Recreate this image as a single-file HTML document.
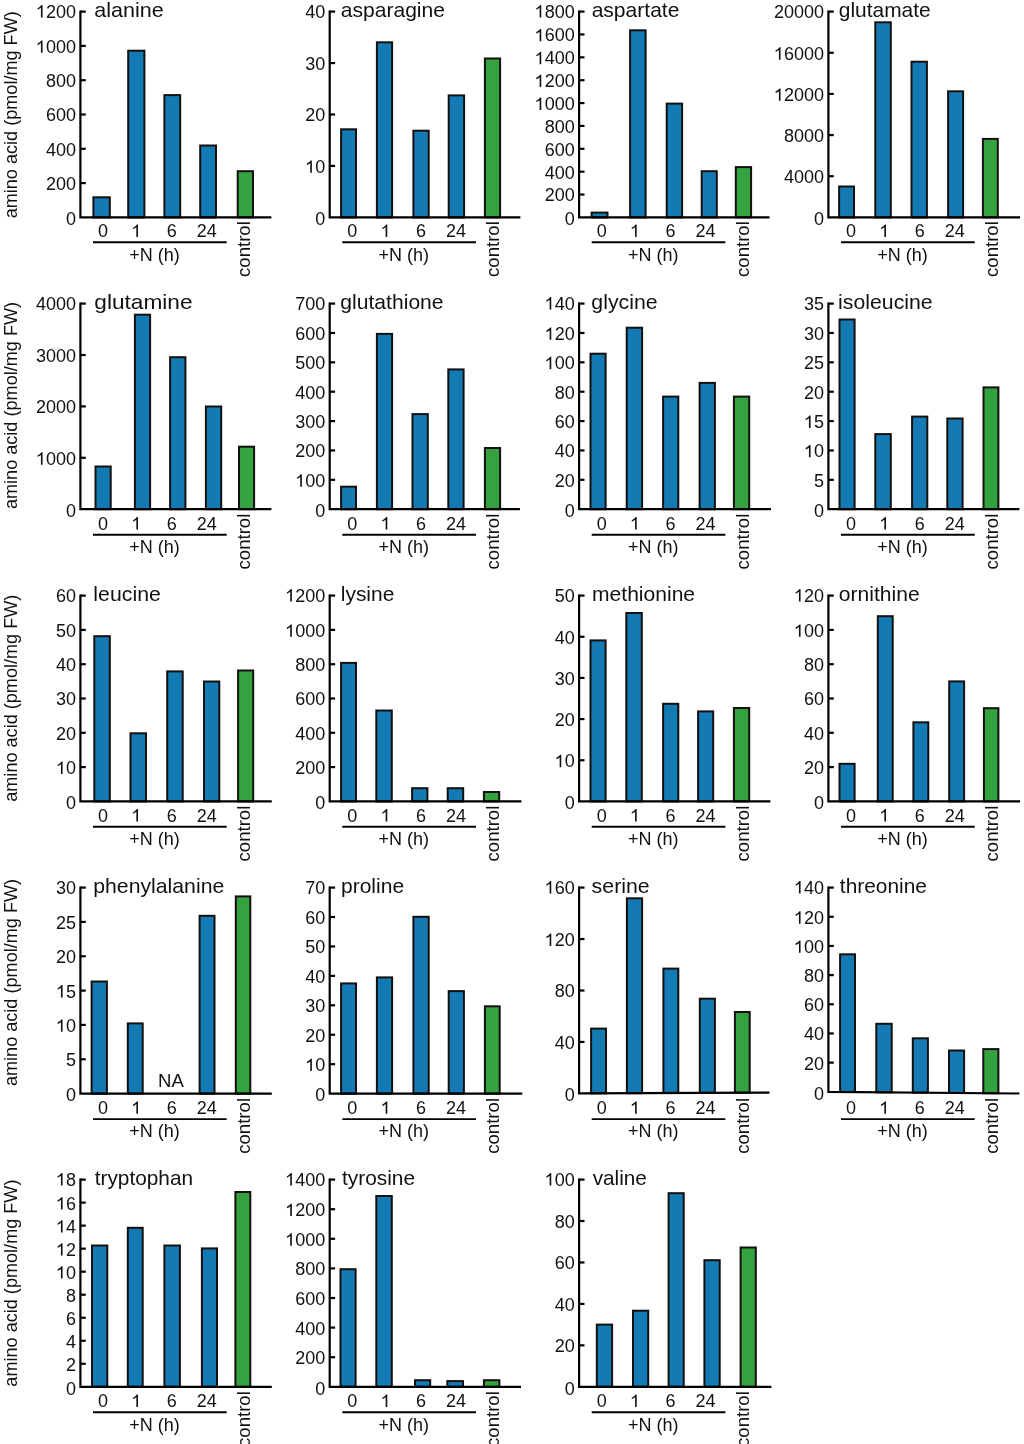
<!DOCTYPE html>
<html><head><meta charset="utf-8"><title>amino acids</title>
<style>
html,body{margin:0;padding:0;background:#fff;}
body{width:1024px;height:1444px;overflow:hidden;}
svg{display:block;will-change:transform;}
.g1{fill:#111;}
.t{font-family:"Liberation Sans",sans-serif;font-size:18px;fill:#111;}
.ti{font-family:"Liberation Sans",sans-serif;font-size:21px;fill:#111;}
</style></head><body>
<svg width="1024" height="1444" viewBox="0 0 1024 1444">
<rect width="1024" height="1444" fill="#fff"/>
<g><rect x="93.4" y="197.3" width="16.4" height="20.1" fill="#137ab4" stroke="#141010" stroke-width="2"/><rect x="128.2" y="50.7" width="16.2" height="166.7" fill="#137ab4" stroke="#141010" stroke-width="2"/><rect x="164.4" y="95.1" width="15.8" height="122.3" fill="#137ab4" stroke="#141010" stroke-width="2"/><rect x="200.2" y="145.5" width="15.8" height="71.9" fill="#137ab4" stroke="#141010" stroke-width="2"/><rect x="237.7" y="171.2" width="15.3" height="46.2" fill="#34a33f" stroke="#141010" stroke-width="2"/><path d="M80.4 10.5V217.4L271.4 217.4" fill="none" stroke="#000" stroke-width="2.2"/><text x="65.99" y="225.1" class="t">0</text><path d="M80.4 183.1H85.8" stroke="#000" stroke-width="2.2"/><text x="45.97" y="190" class="t">200</text><path d="M80.4 148.8H85.8" stroke="#000" stroke-width="2.2"/><text x="45.97" y="155.7" class="t">400</text><path d="M80.4 114.5H85.8" stroke="#000" stroke-width="2.2"/><text x="45.97" y="121.4" class="t">600</text><path d="M80.4 80.2H85.8" stroke="#000" stroke-width="2.2"/><text x="45.97" y="87.1" class="t">800</text><path d="M80.4 45.9H85.8" stroke="#000" stroke-width="2.2"/><text x="35.96" y="52.8" class="t"> 000</text><path d="M750 0H565V1102Q495 1043 385 983Q275 924 188 894V1061Q338 1129 452 1226Q565 1323 625 1409H750Z" transform="matrix(0.008789 0 0 -0.008789 35.96 52.8)" class="g1"/><path d="M80.4 11.6H85.8" stroke="#000" stroke-width="2.2"/><text x="35.96" y="17.5" class="t"> 200</text><path d="M750 0H565V1102Q495 1043 385 983Q275 924 188 894V1061Q338 1129 452 1226Q565 1323 625 1409H750Z" transform="matrix(0.008789 0 0 -0.008789 35.96 17.5)" class="g1"/><text x="94.24" y="16.5" class="ti" textLength="69.58" lengthAdjust="spacingAndGlyphs">alanine</text><text x="97.99" y="237" class="t">0</text><text x="131.39" y="237" class="t"> </text><path d="M750 0H565V1102Q495 1043 385 983Q275 924 188 894V1061Q338 1129 452 1226Q565 1323 625 1409H750Z" transform="matrix(0.008789 0 0 -0.008789 131.39 237)" class="g1"/><text x="166.79" y="237" class="t">6</text><text x="196.79" y="237" class="t">24</text><path d="M93 242.3H226.7" stroke="#000" stroke-width="1.9"/><text x="154.5" y="260.6" class="t" text-anchor="middle">+N (h)</text><text class="t" style="font-size:18.6px" transform="translate(249.8 277) rotate(-90)">control</text><text class="t" style="font-size:18.1px" text-anchor="middle" transform="translate(16.6 114.8) rotate(-90)">amino acid (pmol/mg FW)</text></g>
<g><rect x="341.1" y="129.3" width="14.9" height="88.1" fill="#137ab4" stroke="#141010" stroke-width="2"/><rect x="376.9" y="42.3" width="15.2" height="175.1" fill="#137ab4" stroke="#141010" stroke-width="2"/><rect x="413.4" y="130.7" width="15.3" height="86.7" fill="#137ab4" stroke="#141010" stroke-width="2"/><rect x="448.7" y="95.4" width="15.4" height="122" fill="#137ab4" stroke="#141010" stroke-width="2"/><rect x="484.9" y="58.5" width="15.2" height="158.9" fill="#34a33f" stroke="#141010" stroke-width="2"/><path d="M329.7 10.5V217.4L520.4 217.4" fill="none" stroke="#000" stroke-width="2.2"/><text x="315.29" y="225.1" class="t">0</text><path d="M329.7 165.95H335.1" stroke="#000" stroke-width="2.2"/><text x="305.28" y="172.85" class="t"> 0</text><path d="M750 0H565V1102Q495 1043 385 983Q275 924 188 894V1061Q338 1129 452 1226Q565 1323 625 1409H750Z" transform="matrix(0.008789 0 0 -0.008789 305.28 172.85)" class="g1"/><path d="M329.7 114.5H335.1" stroke="#000" stroke-width="2.2"/><text x="305.28" y="121.4" class="t">20</text><path d="M329.7 63.05H335.1" stroke="#000" stroke-width="2.2"/><text x="305.28" y="69.95" class="t">30</text><path d="M329.7 11.6H335.1" stroke="#000" stroke-width="2.2"/><text x="305.28" y="17.5" class="t">40</text><text x="340.75" y="16.5" class="ti" textLength="104.23" lengthAdjust="spacingAndGlyphs">asparagine</text><text x="347.29" y="237" class="t">0</text><text x="380.69" y="237" class="t"> </text><path d="M750 0H565V1102Q495 1043 385 983Q275 924 188 894V1061Q338 1129 452 1226Q565 1323 625 1409H750Z" transform="matrix(0.008789 0 0 -0.008789 380.69 237)" class="g1"/><text x="416.09" y="237" class="t">6</text><text x="446.09" y="237" class="t">24</text><path d="M342.3 242.3H476" stroke="#000" stroke-width="1.9"/><text x="403.8" y="260.6" class="t" text-anchor="middle">+N (h)</text><text class="t" style="font-size:18.6px" transform="translate(499.1 277) rotate(-90)">control</text></g>
<g><rect x="591.6" y="212.6" width="15.9" height="4.8" fill="#137ab4" stroke="#141010" stroke-width="2"/><rect x="630.1" y="30.3" width="15.5" height="187.1" fill="#137ab4" stroke="#141010" stroke-width="2"/><rect x="666.7" y="103.6" width="15.4" height="113.8" fill="#137ab4" stroke="#141010" stroke-width="2"/><rect x="701.7" y="171.2" width="15.1" height="46.2" fill="#137ab4" stroke="#141010" stroke-width="2"/><rect x="735.8" y="167.1" width="15.3" height="50.3" fill="#34a33f" stroke="#141010" stroke-width="2"/><path d="M579.1 10.5V217.4L769.5 217.4" fill="none" stroke="#000" stroke-width="2.2"/><text x="564.69" y="225.1" class="t">0</text><path d="M579.1 194.53H584.5" stroke="#000" stroke-width="2.2"/><text x="544.67" y="201.43" class="t">200</text><path d="M579.1 171.67H584.5" stroke="#000" stroke-width="2.2"/><text x="544.67" y="178.57" class="t">400</text><path d="M579.1 148.8H584.5" stroke="#000" stroke-width="2.2"/><text x="544.67" y="155.7" class="t">600</text><path d="M579.1 125.93H584.5" stroke="#000" stroke-width="2.2"/><text x="544.67" y="132.83" class="t">800</text><path d="M579.1 103.07H584.5" stroke="#000" stroke-width="2.2"/><text x="534.66" y="109.97" class="t"> 000</text><path d="M750 0H565V1102Q495 1043 385 983Q275 924 188 894V1061Q338 1129 452 1226Q565 1323 625 1409H750Z" transform="matrix(0.008789 0 0 -0.008789 534.66 109.97)" class="g1"/><path d="M579.1 80.2H584.5" stroke="#000" stroke-width="2.2"/><text x="534.66" y="87.1" class="t"> 200</text><path d="M750 0H565V1102Q495 1043 385 983Q275 924 188 894V1061Q338 1129 452 1226Q565 1323 625 1409H750Z" transform="matrix(0.008789 0 0 -0.008789 534.66 87.1)" class="g1"/><path d="M579.1 57.33H584.5" stroke="#000" stroke-width="2.2"/><text x="534.66" y="64.23" class="t"> 400</text><path d="M750 0H565V1102Q495 1043 385 983Q275 924 188 894V1061Q338 1129 452 1226Q565 1323 625 1409H750Z" transform="matrix(0.008789 0 0 -0.008789 534.66 64.23)" class="g1"/><path d="M579.1 34.47H584.5" stroke="#000" stroke-width="2.2"/><text x="534.66" y="41.37" class="t"> 600</text><path d="M750 0H565V1102Q495 1043 385 983Q275 924 188 894V1061Q338 1129 452 1226Q565 1323 625 1409H750Z" transform="matrix(0.008789 0 0 -0.008789 534.66 41.37)" class="g1"/><path d="M579.1 11.6H584.5" stroke="#000" stroke-width="2.2"/><text x="534.66" y="17.5" class="t"> 800</text><path d="M750 0H565V1102Q495 1043 385 983Q275 924 188 894V1061Q338 1129 452 1226Q565 1323 625 1409H750Z" transform="matrix(0.008789 0 0 -0.008789 534.66 17.5)" class="g1"/><text x="591.65" y="16.5" class="ti" textLength="87.77" lengthAdjust="spacingAndGlyphs">aspartate</text><text x="596.69" y="237" class="t">0</text><text x="630.09" y="237" class="t"> </text><path d="M750 0H565V1102Q495 1043 385 983Q275 924 188 894V1061Q338 1129 452 1226Q565 1323 625 1409H750Z" transform="matrix(0.008789 0 0 -0.008789 630.09 237)" class="g1"/><text x="665.49" y="237" class="t">6</text><text x="695.49" y="237" class="t">24</text><path d="M591.7 242.3H725.4" stroke="#000" stroke-width="1.9"/><text x="653.2" y="260.6" class="t" text-anchor="middle">+N (h)</text><text class="t" style="font-size:18.6px" transform="translate(748.5 277) rotate(-90)">control</text></g>
<g><rect x="839.1" y="186.5" width="14.9" height="30.9" fill="#137ab4" stroke="#141010" stroke-width="2"/><rect x="875.3" y="22.3" width="15.5" height="195.1" fill="#137ab4" stroke="#141010" stroke-width="2"/><rect x="911.5" y="61.7" width="15.4" height="155.7" fill="#137ab4" stroke="#141010" stroke-width="2"/><rect x="948.1" y="91.3" width="15" height="126.1" fill="#137ab4" stroke="#141010" stroke-width="2"/><rect x="982.9" y="138.9" width="14.9" height="78.5" fill="#34a33f" stroke="#141010" stroke-width="2"/><path d="M828.4 10.5V217.4L1020 217.4" fill="none" stroke="#000" stroke-width="2.2"/><text x="813.99" y="225.1" class="t">0</text><path d="M828.4 176.24H833.8" stroke="#000" stroke-width="2.2"/><text x="783.96" y="183.14" class="t">4000</text><path d="M828.4 135.08H833.8" stroke="#000" stroke-width="2.2"/><text x="783.96" y="141.98" class="t">8000</text><path d="M828.4 93.92H833.8" stroke="#000" stroke-width="2.2"/><text x="773.95" y="100.82" class="t"> 2000</text><path d="M750 0H565V1102Q495 1043 385 983Q275 924 188 894V1061Q338 1129 452 1226Q565 1323 625 1409H750Z" transform="matrix(0.008789 0 0 -0.008789 773.95 100.82)" class="g1"/><path d="M828.4 52.76H833.8" stroke="#000" stroke-width="2.2"/><text x="773.95" y="59.66" class="t"> 6000</text><path d="M750 0H565V1102Q495 1043 385 983Q275 924 188 894V1061Q338 1129 452 1226Q565 1323 625 1409H750Z" transform="matrix(0.008789 0 0 -0.008789 773.95 59.66)" class="g1"/><path d="M828.4 11.6H833.8" stroke="#000" stroke-width="2.2"/><text x="773.95" y="17.5" class="t">20000</text><text x="838.85" y="16.5" class="ti" textLength="91.83" lengthAdjust="spacingAndGlyphs">glutamate</text><text x="845.99" y="237" class="t">0</text><text x="879.39" y="237" class="t"> </text><path d="M750 0H565V1102Q495 1043 385 983Q275 924 188 894V1061Q338 1129 452 1226Q565 1323 625 1409H750Z" transform="matrix(0.008789 0 0 -0.008789 879.39 237)" class="g1"/><text x="914.79" y="237" class="t">6</text><text x="944.79" y="237" class="t">24</text><path d="M841 242.3H974.7" stroke="#000" stroke-width="1.9"/><text x="902.5" y="260.6" class="t" text-anchor="middle">+N (h)</text><text class="t" style="font-size:18.6px" transform="translate(997.8 277) rotate(-90)">control</text></g>
<g><rect x="95.5" y="466.5" width="15.2" height="42.7" fill="#137ab4" stroke="#141010" stroke-width="2"/><rect x="134.9" y="314.7" width="15.2" height="194.5" fill="#137ab4" stroke="#141010" stroke-width="2"/><rect x="170.1" y="357.2" width="15.3" height="152" fill="#137ab4" stroke="#141010" stroke-width="2"/><rect x="205.9" y="406.5" width="15.3" height="102.7" fill="#137ab4" stroke="#141010" stroke-width="2"/><rect x="239" y="446.7" width="15.1" height="62.5" fill="#34a33f" stroke="#141010" stroke-width="2"/><path d="M80.4 302.5V509.2L271.4 509.2" fill="none" stroke="#000" stroke-width="2.2"/><text x="65.99" y="516.9" class="t">0</text><path d="M80.4 457.8H85.8" stroke="#000" stroke-width="2.2"/><text x="35.96" y="464.7" class="t"> 000</text><path d="M750 0H565V1102Q495 1043 385 983Q275 924 188 894V1061Q338 1129 452 1226Q565 1323 625 1409H750Z" transform="matrix(0.008789 0 0 -0.008789 35.96 464.7)" class="g1"/><path d="M80.4 406.4H85.8" stroke="#000" stroke-width="2.2"/><text x="35.96" y="413.3" class="t">2000</text><path d="M80.4 355H85.8" stroke="#000" stroke-width="2.2"/><text x="35.96" y="361.9" class="t">3000</text><path d="M80.4 303.6H85.8" stroke="#000" stroke-width="2.2"/><text x="35.96" y="309.5" class="t">4000</text><text x="94.31" y="308.5" class="ti" textLength="98.25" lengthAdjust="spacingAndGlyphs">glutamine</text><text x="97.99" y="529.5" class="t">0</text><text x="131.39" y="529.5" class="t"> </text><path d="M750 0H565V1102Q495 1043 385 983Q275 924 188 894V1061Q338 1129 452 1226Q565 1323 625 1409H750Z" transform="matrix(0.008789 0 0 -0.008789 131.39 529.5)" class="g1"/><text x="166.79" y="529.5" class="t">6</text><text x="196.79" y="529.5" class="t">24</text><path d="M93 534.8H226.7" stroke="#000" stroke-width="1.9"/><text x="154.5" y="553.1" class="t" text-anchor="middle">+N (h)</text><text class="t" style="font-size:18.6px" transform="translate(249.8 569.5) rotate(-90)">control</text><text class="t" style="font-size:18.1px" text-anchor="middle" transform="translate(16.6 405.5) rotate(-90)">amino acid (pmol/mg FW)</text></g>
<g><rect x="341.1" y="486.7" width="14.9" height="22.5" fill="#137ab4" stroke="#141010" stroke-width="2"/><rect x="376.9" y="333.9" width="15.2" height="175.3" fill="#137ab4" stroke="#141010" stroke-width="2"/><rect x="412.5" y="414.1" width="15.3" height="95.1" fill="#137ab4" stroke="#141010" stroke-width="2"/><rect x="448.3" y="369.4" width="15.3" height="139.8" fill="#137ab4" stroke="#141010" stroke-width="2"/><rect x="484.9" y="448" width="15.2" height="61.2" fill="#34a33f" stroke="#141010" stroke-width="2"/><path d="M329.7 302.5V509.2L519.9 509.2" fill="none" stroke="#000" stroke-width="2.2"/><text x="315.29" y="516.9" class="t">0</text><path d="M329.7 479.83H335.1" stroke="#000" stroke-width="2.2"/><text x="295.27" y="486.73" class="t"> 00</text><path d="M750 0H565V1102Q495 1043 385 983Q275 924 188 894V1061Q338 1129 452 1226Q565 1323 625 1409H750Z" transform="matrix(0.008789 0 0 -0.008789 295.27 486.73)" class="g1"/><path d="M329.7 450.46H335.1" stroke="#000" stroke-width="2.2"/><text x="295.27" y="457.36" class="t">200</text><path d="M329.7 421.09H335.1" stroke="#000" stroke-width="2.2"/><text x="295.27" y="427.99" class="t">300</text><path d="M329.7 391.71H335.1" stroke="#000" stroke-width="2.2"/><text x="295.27" y="398.61" class="t">400</text><path d="M329.7 362.34H335.1" stroke="#000" stroke-width="2.2"/><text x="295.27" y="369.24" class="t">500</text><path d="M329.7 332.97H335.1" stroke="#000" stroke-width="2.2"/><text x="295.27" y="339.87" class="t">600</text><path d="M329.7 303.6H335.1" stroke="#000" stroke-width="2.2"/><text x="295.27" y="309.5" class="t">700</text><text x="340.34" y="308.5" class="ti" textLength="103.27" lengthAdjust="spacingAndGlyphs">glutathione</text><text x="347.29" y="529.5" class="t">0</text><text x="380.69" y="529.5" class="t"> </text><path d="M750 0H565V1102Q495 1043 385 983Q275 924 188 894V1061Q338 1129 452 1226Q565 1323 625 1409H750Z" transform="matrix(0.008789 0 0 -0.008789 380.69 529.5)" class="g1"/><text x="416.09" y="529.5" class="t">6</text><text x="446.09" y="529.5" class="t">24</text><path d="M342.3 534.8H476" stroke="#000" stroke-width="1.9"/><text x="403.8" y="553.1" class="t" text-anchor="middle">+N (h)</text><text class="t" style="font-size:18.6px" transform="translate(499.1 569.5) rotate(-90)">control</text></g>
<g><rect x="590.5" y="353.7" width="15.1" height="155.5" fill="#137ab4" stroke="#141010" stroke-width="2"/><rect x="626.7" y="327.7" width="15.4" height="181.5" fill="#137ab4" stroke="#141010" stroke-width="2"/><rect x="663.1" y="396.6" width="15.2" height="112.6" fill="#137ab4" stroke="#141010" stroke-width="2"/><rect x="699.6" y="382.9" width="15.3" height="126.3" fill="#137ab4" stroke="#141010" stroke-width="2"/><rect x="733.9" y="396.6" width="15.3" height="112.6" fill="#34a33f" stroke="#141010" stroke-width="2"/><path d="M579.1 302.5V509.2L771 509.2" fill="none" stroke="#000" stroke-width="2.2"/><text x="564.69" y="516.9" class="t">0</text><path d="M579.1 479.83H584.5" stroke="#000" stroke-width="2.2"/><text x="554.68" y="486.73" class="t">20</text><path d="M579.1 450.46H584.5" stroke="#000" stroke-width="2.2"/><text x="554.68" y="457.36" class="t">40</text><path d="M579.1 421.09H584.5" stroke="#000" stroke-width="2.2"/><text x="554.68" y="427.99" class="t">60</text><path d="M579.1 391.71H584.5" stroke="#000" stroke-width="2.2"/><text x="554.68" y="398.61" class="t">80</text><path d="M579.1 362.34H584.5" stroke="#000" stroke-width="2.2"/><text x="544.67" y="369.24" class="t"> 00</text><path d="M750 0H565V1102Q495 1043 385 983Q275 924 188 894V1061Q338 1129 452 1226Q565 1323 625 1409H750Z" transform="matrix(0.008789 0 0 -0.008789 544.67 369.24)" class="g1"/><path d="M579.1 332.97H584.5" stroke="#000" stroke-width="2.2"/><text x="544.67" y="339.87" class="t"> 20</text><path d="M750 0H565V1102Q495 1043 385 983Q275 924 188 894V1061Q338 1129 452 1226Q565 1323 625 1409H750Z" transform="matrix(0.008789 0 0 -0.008789 544.67 339.87)" class="g1"/><path d="M579.1 303.6H584.5" stroke="#000" stroke-width="2.2"/><text x="544.67" y="309.5" class="t"> 40</text><path d="M750 0H565V1102Q495 1043 385 983Q275 924 188 894V1061Q338 1129 452 1226Q565 1323 625 1409H750Z" transform="matrix(0.008789 0 0 -0.008789 544.67 309.5)" class="g1"/><text x="591.33" y="308.5" class="ti" textLength="66.31" lengthAdjust="spacingAndGlyphs">glycine</text><text x="596.69" y="529.5" class="t">0</text><text x="630.09" y="529.5" class="t"> </text><path d="M750 0H565V1102Q495 1043 385 983Q275 924 188 894V1061Q338 1129 452 1226Q565 1323 625 1409H750Z" transform="matrix(0.008789 0 0 -0.008789 630.09 529.5)" class="g1"/><text x="665.49" y="529.5" class="t">6</text><text x="695.49" y="529.5" class="t">24</text><path d="M591.7 534.8H725.4" stroke="#000" stroke-width="1.9"/><text x="653.2" y="553.1" class="t" text-anchor="middle">+N (h)</text><text class="t" style="font-size:18.6px" transform="translate(748.5 569.5) rotate(-90)">control</text></g>
<g><rect x="839.5" y="319.5" width="15.1" height="189.7" fill="#137ab4" stroke="#141010" stroke-width="2"/><rect x="875.3" y="434.1" width="15.5" height="75.1" fill="#137ab4" stroke="#141010" stroke-width="2"/><rect x="912.1" y="416.6" width="15.2" height="92.6" fill="#137ab4" stroke="#141010" stroke-width="2"/><rect x="947.3" y="418.5" width="15.3" height="90.7" fill="#137ab4" stroke="#141010" stroke-width="2"/><rect x="983.5" y="387.4" width="14.9" height="121.8" fill="#34a33f" stroke="#141010" stroke-width="2"/><path d="M828.4 302.5V509.2L1019.4 509.2" fill="none" stroke="#000" stroke-width="2.2"/><text x="813.99" y="516.9" class="t">0</text><path d="M828.4 479.83H833.8" stroke="#000" stroke-width="2.2"/><text x="813.99" y="486.73" class="t">5</text><path d="M828.4 450.46H833.8" stroke="#000" stroke-width="2.2"/><text x="803.98" y="457.36" class="t"> 0</text><path d="M750 0H565V1102Q495 1043 385 983Q275 924 188 894V1061Q338 1129 452 1226Q565 1323 625 1409H750Z" transform="matrix(0.008789 0 0 -0.008789 803.98 457.36)" class="g1"/><path d="M828.4 421.09H833.8" stroke="#000" stroke-width="2.2"/><text x="803.98" y="427.99" class="t"> 5</text><path d="M750 0H565V1102Q495 1043 385 983Q275 924 188 894V1061Q338 1129 452 1226Q565 1323 625 1409H750Z" transform="matrix(0.008789 0 0 -0.008789 803.98 427.99)" class="g1"/><path d="M828.4 391.71H833.8" stroke="#000" stroke-width="2.2"/><text x="803.98" y="398.61" class="t">20</text><path d="M828.4 362.34H833.8" stroke="#000" stroke-width="2.2"/><text x="803.98" y="369.24" class="t">25</text><path d="M828.4 332.97H833.8" stroke="#000" stroke-width="2.2"/><text x="803.98" y="339.87" class="t">30</text><path d="M828.4 303.6H833.8" stroke="#000" stroke-width="2.2"/><text x="803.98" y="309.5" class="t">35</text><text x="838.13" y="308.5" class="ti" textLength="94.54" lengthAdjust="spacingAndGlyphs">isoleucine</text><text x="845.99" y="529.5" class="t">0</text><text x="879.39" y="529.5" class="t"> </text><path d="M750 0H565V1102Q495 1043 385 983Q275 924 188 894V1061Q338 1129 452 1226Q565 1323 625 1409H750Z" transform="matrix(0.008789 0 0 -0.008789 879.39 529.5)" class="g1"/><text x="914.79" y="529.5" class="t">6</text><text x="944.79" y="529.5" class="t">24</text><path d="M841 534.8H974.7" stroke="#000" stroke-width="1.9"/><text x="902.5" y="553.1" class="t" text-anchor="middle">+N (h)</text><text class="t" style="font-size:18.6px" transform="translate(997.8 569.5) rotate(-90)">control</text></g>
<g><rect x="94.3" y="636.2" width="15.5" height="165.2" fill="#137ab4" stroke="#141010" stroke-width="2"/><rect x="130.5" y="733.3" width="15.5" height="68.1" fill="#137ab4" stroke="#141010" stroke-width="2"/><rect x="167.2" y="671.4" width="15.5" height="130" fill="#137ab4" stroke="#141010" stroke-width="2"/><rect x="204" y="681.5" width="15.3" height="119.9" fill="#137ab4" stroke="#141010" stroke-width="2"/><rect x="238.1" y="670.5" width="15.1" height="130.9" fill="#34a33f" stroke="#141010" stroke-width="2"/><path d="M80.4 594.5V801.4L271.8 801.4" fill="none" stroke="#000" stroke-width="2.2"/><text x="65.99" y="809.1" class="t">0</text><path d="M80.4 767.1H85.8" stroke="#000" stroke-width="2.2"/><text x="55.98" y="774" class="t"> 0</text><path d="M750 0H565V1102Q495 1043 385 983Q275 924 188 894V1061Q338 1129 452 1226Q565 1323 625 1409H750Z" transform="matrix(0.008789 0 0 -0.008789 55.98 774)" class="g1"/><path d="M80.4 732.8H85.8" stroke="#000" stroke-width="2.2"/><text x="55.98" y="739.7" class="t">20</text><path d="M80.4 698.5H85.8" stroke="#000" stroke-width="2.2"/><text x="55.98" y="705.4" class="t">30</text><path d="M80.4 664.2H85.8" stroke="#000" stroke-width="2.2"/><text x="55.98" y="671.1" class="t">40</text><path d="M80.4 629.9H85.8" stroke="#000" stroke-width="2.2"/><text x="55.98" y="636.8" class="t">50</text><path d="M80.4 595.6H85.8" stroke="#000" stroke-width="2.2"/><text x="55.98" y="601.5" class="t">60</text><text x="93.33" y="600.5" class="ti" textLength="67.5" lengthAdjust="spacingAndGlyphs">leucine</text><text x="97.99" y="821.5" class="t">0</text><text x="131.39" y="821.5" class="t"> </text><path d="M750 0H565V1102Q495 1043 385 983Q275 924 188 894V1061Q338 1129 452 1226Q565 1323 625 1409H750Z" transform="matrix(0.008789 0 0 -0.008789 131.39 821.5)" class="g1"/><text x="166.79" y="821.5" class="t">6</text><text x="196.79" y="821.5" class="t">24</text><path d="M93 826.8H226.7" stroke="#000" stroke-width="1.9"/><text x="154.5" y="845.1" class="t" text-anchor="middle">+N (h)</text><text class="t" style="font-size:18.6px" transform="translate(249.8 861.5) rotate(-90)">control</text><text class="t" style="font-size:18.1px" text-anchor="middle" transform="translate(16.6 698.2) rotate(-90)">amino acid (pmol/mg FW)</text></g>
<g><rect x="341.1" y="662.9" width="14.9" height="138.5" fill="#137ab4" stroke="#141010" stroke-width="2"/><rect x="376.3" y="710.5" width="15.5" height="90.9" fill="#137ab4" stroke="#141010" stroke-width="2"/><rect x="412.1" y="788.2" width="15.3" height="13.2" fill="#137ab4" stroke="#141010" stroke-width="2"/><rect x="447.7" y="788.2" width="15.5" height="13.2" fill="#137ab4" stroke="#141010" stroke-width="2"/><rect x="483.9" y="792" width="15.3" height="9.4" fill="#34a33f" stroke="#141010" stroke-width="2"/><path d="M329.7 594.5V801.4L521.4 801.4" fill="none" stroke="#000" stroke-width="2.2"/><text x="315.29" y="809.1" class="t">0</text><path d="M329.7 767.1H335.1" stroke="#000" stroke-width="2.2"/><text x="295.27" y="774" class="t">200</text><path d="M329.7 732.8H335.1" stroke="#000" stroke-width="2.2"/><text x="295.27" y="739.7" class="t">400</text><path d="M329.7 698.5H335.1" stroke="#000" stroke-width="2.2"/><text x="295.27" y="705.4" class="t">600</text><path d="M329.7 664.2H335.1" stroke="#000" stroke-width="2.2"/><text x="295.27" y="671.1" class="t">800</text><path d="M329.7 629.9H335.1" stroke="#000" stroke-width="2.2"/><text x="285.26" y="636.8" class="t"> 000</text><path d="M750 0H565V1102Q495 1043 385 983Q275 924 188 894V1061Q338 1129 452 1226Q565 1323 625 1409H750Z" transform="matrix(0.008789 0 0 -0.008789 285.26 636.8)" class="g1"/><path d="M329.7 595.6H335.1" stroke="#000" stroke-width="2.2"/><text x="285.26" y="601.5" class="t"> 200</text><path d="M750 0H565V1102Q495 1043 385 983Q275 924 188 894V1061Q338 1129 452 1226Q565 1323 625 1409H750Z" transform="matrix(0.008789 0 0 -0.008789 285.26 601.5)" class="g1"/><text x="340.75" y="600.5" class="ti" textLength="53.6" lengthAdjust="spacingAndGlyphs">lysine</text><text x="347.29" y="821.5" class="t">0</text><text x="380.69" y="821.5" class="t"> </text><path d="M750 0H565V1102Q495 1043 385 983Q275 924 188 894V1061Q338 1129 452 1226Q565 1323 625 1409H750Z" transform="matrix(0.008789 0 0 -0.008789 380.69 821.5)" class="g1"/><text x="416.09" y="821.5" class="t">6</text><text x="446.09" y="821.5" class="t">24</text><path d="M342.3 826.8H476" stroke="#000" stroke-width="1.9"/><text x="403.8" y="845.1" class="t" text-anchor="middle">+N (h)</text><text class="t" style="font-size:18.6px" transform="translate(499.1 861.5) rotate(-90)">control</text></g>
<g><rect x="590.5" y="640.4" width="15.1" height="161" fill="#137ab4" stroke="#141010" stroke-width="2"/><rect x="626.3" y="613" width="15.5" height="188.4" fill="#137ab4" stroke="#141010" stroke-width="2"/><rect x="663.1" y="703.8" width="15.2" height="97.6" fill="#137ab4" stroke="#141010" stroke-width="2"/><rect x="698.1" y="711.4" width="15.1" height="90" fill="#137ab4" stroke="#141010" stroke-width="2"/><rect x="733.9" y="708" width="15.3" height="93.4" fill="#34a33f" stroke="#141010" stroke-width="2"/><path d="M579.1 594.5V801.4L770.4 801.4" fill="none" stroke="#000" stroke-width="2.2"/><text x="564.69" y="809.1" class="t">0</text><path d="M579.1 760.24H584.5" stroke="#000" stroke-width="2.2"/><text x="554.68" y="767.14" class="t"> 0</text><path d="M750 0H565V1102Q495 1043 385 983Q275 924 188 894V1061Q338 1129 452 1226Q565 1323 625 1409H750Z" transform="matrix(0.008789 0 0 -0.008789 554.68 767.14)" class="g1"/><path d="M579.1 719.08H584.5" stroke="#000" stroke-width="2.2"/><text x="554.68" y="725.98" class="t">20</text><path d="M579.1 677.92H584.5" stroke="#000" stroke-width="2.2"/><text x="554.68" y="684.82" class="t">30</text><path d="M579.1 636.76H584.5" stroke="#000" stroke-width="2.2"/><text x="554.68" y="643.66" class="t">40</text><path d="M579.1 595.6H584.5" stroke="#000" stroke-width="2.2"/><text x="554.68" y="601.5" class="t">50</text><text x="592.05" y="600.5" class="ti" textLength="103.04" lengthAdjust="spacingAndGlyphs">methionine</text><text x="596.69" y="821.5" class="t">0</text><text x="630.09" y="821.5" class="t"> </text><path d="M750 0H565V1102Q495 1043 385 983Q275 924 188 894V1061Q338 1129 452 1226Q565 1323 625 1409H750Z" transform="matrix(0.008789 0 0 -0.008789 630.09 821.5)" class="g1"/><text x="665.49" y="821.5" class="t">6</text><text x="695.49" y="821.5" class="t">24</text><path d="M591.7 826.8H725.4" stroke="#000" stroke-width="1.9"/><text x="653.2" y="845.1" class="t" text-anchor="middle">+N (h)</text><text class="t" style="font-size:18.6px" transform="translate(748.5 861.5) rotate(-90)">control</text></g>
<g><rect x="839.5" y="763.8" width="15.1" height="37.6" fill="#137ab4" stroke="#141010" stroke-width="2"/><rect x="877.8" y="616.2" width="14.9" height="185.2" fill="#137ab4" stroke="#141010" stroke-width="2"/><rect x="913.4" y="722.3" width="14.9" height="79.1" fill="#137ab4" stroke="#141010" stroke-width="2"/><rect x="949.2" y="681.4" width="14.9" height="120" fill="#137ab4" stroke="#141010" stroke-width="2"/><rect x="983.9" y="708.2" width="14.5" height="93.2" fill="#34a33f" stroke="#141010" stroke-width="2"/><path d="M828.4 594.5V801.4L1020 801.4" fill="none" stroke="#000" stroke-width="2.2"/><text x="813.99" y="809.1" class="t">0</text><path d="M828.4 767.1H833.8" stroke="#000" stroke-width="2.2"/><text x="803.98" y="774" class="t">20</text><path d="M828.4 732.8H833.8" stroke="#000" stroke-width="2.2"/><text x="803.98" y="739.7" class="t">40</text><path d="M828.4 698.5H833.8" stroke="#000" stroke-width="2.2"/><text x="803.98" y="705.4" class="t">60</text><path d="M828.4 664.2H833.8" stroke="#000" stroke-width="2.2"/><text x="803.98" y="671.1" class="t">80</text><path d="M828.4 629.9H833.8" stroke="#000" stroke-width="2.2"/><text x="793.97" y="636.8" class="t"> 00</text><path d="M750 0H565V1102Q495 1043 385 983Q275 924 188 894V1061Q338 1129 452 1226Q565 1323 625 1409H750Z" transform="matrix(0.008789 0 0 -0.008789 793.97 636.8)" class="g1"/><path d="M828.4 595.6H833.8" stroke="#000" stroke-width="2.2"/><text x="793.97" y="601.5" class="t"> 20</text><path d="M750 0H565V1102Q495 1043 385 983Q275 924 188 894V1061Q338 1129 452 1226Q565 1323 625 1409H750Z" transform="matrix(0.008789 0 0 -0.008789 793.97 601.5)" class="g1"/><text x="838.85" y="600.5" class="ti" textLength="80.77" lengthAdjust="spacingAndGlyphs">ornithine</text><text x="845.99" y="821.5" class="t">0</text><text x="879.39" y="821.5" class="t"> </text><path d="M750 0H565V1102Q495 1043 385 983Q275 924 188 894V1061Q338 1129 452 1226Q565 1323 625 1409H750Z" transform="matrix(0.008789 0 0 -0.008789 879.39 821.5)" class="g1"/><text x="914.79" y="821.5" class="t">6</text><text x="944.79" y="821.5" class="t">24</text><path d="M841 826.8H974.7" stroke="#000" stroke-width="1.9"/><text x="902.5" y="845.1" class="t" text-anchor="middle">+N (h)</text><text class="t" style="font-size:18.6px" transform="translate(997.8 861.5) rotate(-90)">control</text></g>
<g><rect x="91.6" y="981.5" width="15.3" height="112.1" fill="#137ab4" stroke="#141010" stroke-width="2"/><rect x="127.8" y="1023.4" width="14.9" height="70.2" fill="#137ab4" stroke="#141010" stroke-width="2"/><rect x="199.6" y="915.8" width="14.9" height="177.8" fill="#137ab4" stroke="#141010" stroke-width="2"/><rect x="235.8" y="896.4" width="14.5" height="197.2" fill="#34a33f" stroke="#141010" stroke-width="2"/><path d="M80.4 886.5V1093.6L271.8 1093.6" fill="none" stroke="#000" stroke-width="2.2"/><text x="65.99" y="1101.3" class="t">0</text><path d="M80.4 1059.27H85.8" stroke="#000" stroke-width="2.2"/><text x="65.99" y="1066.17" class="t">5</text><path d="M80.4 1024.93H85.8" stroke="#000" stroke-width="2.2"/><text x="55.98" y="1031.83" class="t"> 0</text><path d="M750 0H565V1102Q495 1043 385 983Q275 924 188 894V1061Q338 1129 452 1226Q565 1323 625 1409H750Z" transform="matrix(0.008789 0 0 -0.008789 55.98 1031.83)" class="g1"/><path d="M80.4 990.6H85.8" stroke="#000" stroke-width="2.2"/><text x="55.98" y="997.5" class="t"> 5</text><path d="M750 0H565V1102Q495 1043 385 983Q275 924 188 894V1061Q338 1129 452 1226Q565 1323 625 1409H750Z" transform="matrix(0.008789 0 0 -0.008789 55.98 997.5)" class="g1"/><path d="M80.4 956.27H85.8" stroke="#000" stroke-width="2.2"/><text x="55.98" y="963.17" class="t">20</text><path d="M80.4 921.93H85.8" stroke="#000" stroke-width="2.2"/><text x="55.98" y="928.83" class="t">25</text><path d="M80.4 887.6H85.8" stroke="#000" stroke-width="2.2"/><text x="55.98" y="893.5" class="t">30</text><text x="93.23" y="892.5" class="ti" textLength="131.04" lengthAdjust="spacingAndGlyphs">phenylalanine</text><text x="97.99" y="1113.8" class="t">0</text><text x="131.39" y="1113.8" class="t"> </text><path d="M750 0H565V1102Q495 1043 385 983Q275 924 188 894V1061Q338 1129 452 1226Q565 1323 625 1409H750Z" transform="matrix(0.008789 0 0 -0.008789 131.39 1113.8)" class="g1"/><text x="166.79" y="1113.8" class="t">6</text><text x="196.79" y="1113.8" class="t">24</text><path d="M93 1119.1H226.7" stroke="#000" stroke-width="1.9"/><text x="154.5" y="1137.4" class="t" text-anchor="middle">+N (h)</text><text class="t" style="font-size:18.6px" transform="translate(249.8 1153.8) rotate(-90)">control</text><text x="170.9" y="1087.2" class="t" style="font-size:18.6px" text-anchor="middle">NA</text><text class="t" style="font-size:18.1px" text-anchor="middle" transform="translate(16.6 982.5) rotate(-90)">amino acid (pmol/mg FW)</text></g>
<g><rect x="341.1" y="983.4" width="14.9" height="110.2" fill="#137ab4" stroke="#141010" stroke-width="2"/><rect x="376.9" y="977.4" width="15.2" height="116.2" fill="#137ab4" stroke="#141010" stroke-width="2"/><rect x="413.4" y="916.8" width="15.3" height="176.8" fill="#137ab4" stroke="#141010" stroke-width="2"/><rect x="448.7" y="991.1" width="15.2" height="102.5" fill="#137ab4" stroke="#141010" stroke-width="2"/><rect x="484.9" y="1006.3" width="14.8" height="87.3" fill="#34a33f" stroke="#141010" stroke-width="2"/><path d="M329.7 886.5V1093.6L522.3 1093.6" fill="none" stroke="#000" stroke-width="2.2"/><text x="315.29" y="1101.3" class="t">0</text><path d="M329.7 1064.17H335.1" stroke="#000" stroke-width="2.2"/><text x="305.28" y="1071.07" class="t"> 0</text><path d="M750 0H565V1102Q495 1043 385 983Q275 924 188 894V1061Q338 1129 452 1226Q565 1323 625 1409H750Z" transform="matrix(0.008789 0 0 -0.008789 305.28 1071.07)" class="g1"/><path d="M329.7 1034.74H335.1" stroke="#000" stroke-width="2.2"/><text x="305.28" y="1041.64" class="t">20</text><path d="M329.7 1005.31H335.1" stroke="#000" stroke-width="2.2"/><text x="305.28" y="1012.21" class="t">30</text><path d="M329.7 975.89H335.1" stroke="#000" stroke-width="2.2"/><text x="305.28" y="982.79" class="t">40</text><path d="M329.7 946.46H335.1" stroke="#000" stroke-width="2.2"/><text x="305.28" y="953.36" class="t">50</text><path d="M329.7 917.03H335.1" stroke="#000" stroke-width="2.2"/><text x="305.28" y="923.93" class="t">60</text><path d="M329.7 887.6H335.1" stroke="#000" stroke-width="2.2"/><text x="305.28" y="893.5" class="t">70</text><text x="340.95" y="892.5" class="ti" textLength="63.15" lengthAdjust="spacingAndGlyphs">proline</text><text x="347.29" y="1113.8" class="t">0</text><text x="380.69" y="1113.8" class="t"> </text><path d="M750 0H565V1102Q495 1043 385 983Q275 924 188 894V1061Q338 1129 452 1226Q565 1323 625 1409H750Z" transform="matrix(0.008789 0 0 -0.008789 380.69 1113.8)" class="g1"/><text x="416.09" y="1113.8" class="t">6</text><text x="446.09" y="1113.8" class="t">24</text><path d="M342.3 1119.1H476" stroke="#000" stroke-width="1.9"/><text x="403.8" y="1137.4" class="t" text-anchor="middle">+N (h)</text><text class="t" style="font-size:18.6px" transform="translate(499.1 1153.8) rotate(-90)">control</text></g>
<g><rect x="591.1" y="1028.6" width="14.9" height="64.72" fill="#137ab4" stroke="#141010" stroke-width="2"/><rect x="626.9" y="898.3" width="15.2" height="194.87" fill="#137ab4" stroke="#141010" stroke-width="2"/><rect x="663.4" y="968.6" width="14.9" height="124.41" fill="#137ab4" stroke="#141010" stroke-width="2"/><rect x="699.8" y="998.7" width="15.1" height="94.16" fill="#137ab4" stroke="#141010" stroke-width="2"/><rect x="734.9" y="1012" width="14.8" height="80.71" fill="#34a33f" stroke="#141010" stroke-width="2"/><path d="M579.1 886.5V1093.4L769.5 1092.6" fill="none" stroke="#000" stroke-width="2.2"/><text x="564.69" y="1101.1" class="t">0</text><path d="M579.1 1041.95H584.5" stroke="#000" stroke-width="2.2"/><text x="554.68" y="1048.85" class="t">40</text><path d="M579.1 990.5H584.5" stroke="#000" stroke-width="2.2"/><text x="554.68" y="997.4" class="t">80</text><path d="M579.1 939.05H584.5" stroke="#000" stroke-width="2.2"/><text x="544.67" y="945.95" class="t"> 20</text><path d="M750 0H565V1102Q495 1043 385 983Q275 924 188 894V1061Q338 1129 452 1226Q565 1323 625 1409H750Z" transform="matrix(0.008789 0 0 -0.008789 544.67 945.95)" class="g1"/><path d="M579.1 887.6H584.5" stroke="#000" stroke-width="2.2"/><text x="544.67" y="893.5" class="t"> 60</text><path d="M750 0H565V1102Q495 1043 385 983Q275 924 188 894V1061Q338 1129 452 1226Q565 1323 625 1409H750Z" transform="matrix(0.008789 0 0 -0.008789 544.67 893.5)" class="g1"/><text x="591.63" y="892.5" class="ti" textLength="58.04" lengthAdjust="spacingAndGlyphs">serine</text><text x="596.69" y="1113.8" class="t">0</text><text x="630.09" y="1113.8" class="t"> </text><path d="M750 0H565V1102Q495 1043 385 983Q275 924 188 894V1061Q338 1129 452 1226Q565 1323 625 1409H750Z" transform="matrix(0.008789 0 0 -0.008789 630.09 1113.8)" class="g1"/><text x="665.49" y="1113.8" class="t">6</text><text x="695.49" y="1113.8" class="t">24</text><path d="M591.7 1119.1H725.4" stroke="#000" stroke-width="1.9"/><text x="653.2" y="1137.4" class="t" text-anchor="middle">+N (h)</text><text class="t" style="font-size:18.6px" transform="translate(748.5 1153.8) rotate(-90)">control</text></g>
<g><rect x="840.1" y="954.3" width="14.9" height="137.67" fill="#137ab4" stroke="#141010" stroke-width="2"/><rect x="876.3" y="1023.8" width="15.4" height="68.49" fill="#137ab4" stroke="#141010" stroke-width="2"/><rect x="912.8" y="1038.3" width="15.1" height="54.32" fill="#137ab4" stroke="#141010" stroke-width="2"/><rect x="949" y="1050.5" width="15.1" height="42.44" fill="#137ab4" stroke="#141010" stroke-width="2"/><rect x="983.3" y="1049.1" width="15.1" height="44.15" fill="#34a33f" stroke="#141010" stroke-width="2"/><path d="M828.4 886.5V1091.8L1019.4 1093.5" fill="none" stroke="#000" stroke-width="2.2"/><text x="813.99" y="1099.5" class="t">0</text><path d="M828.4 1062.63H833.8" stroke="#000" stroke-width="2.2"/><text x="803.98" y="1069.53" class="t">20</text><path d="M828.4 1033.46H833.8" stroke="#000" stroke-width="2.2"/><text x="803.98" y="1040.36" class="t">40</text><path d="M828.4 1004.29H833.8" stroke="#000" stroke-width="2.2"/><text x="803.98" y="1011.19" class="t">60</text><path d="M828.4 975.11H833.8" stroke="#000" stroke-width="2.2"/><text x="803.98" y="982.01" class="t">80</text><path d="M828.4 945.94H833.8" stroke="#000" stroke-width="2.2"/><text x="793.97" y="952.84" class="t"> 00</text><path d="M750 0H565V1102Q495 1043 385 983Q275 924 188 894V1061Q338 1129 452 1226Q565 1323 625 1409H750Z" transform="matrix(0.008789 0 0 -0.008789 793.97 952.84)" class="g1"/><path d="M828.4 916.77H833.8" stroke="#000" stroke-width="2.2"/><text x="793.97" y="923.67" class="t"> 20</text><path d="M750 0H565V1102Q495 1043 385 983Q275 924 188 894V1061Q338 1129 452 1226Q565 1323 625 1409H750Z" transform="matrix(0.008789 0 0 -0.008789 793.97 923.67)" class="g1"/><path d="M828.4 887.6H833.8" stroke="#000" stroke-width="2.2"/><text x="793.97" y="893.5" class="t"> 40</text><path d="M750 0H565V1102Q495 1043 385 983Q275 924 188 894V1061Q338 1129 452 1226Q565 1323 625 1409H750Z" transform="matrix(0.008789 0 0 -0.008789 793.97 893.5)" class="g1"/><text x="839.85" y="892.5" class="ti" textLength="87.07" lengthAdjust="spacingAndGlyphs">threonine</text><text x="845.99" y="1113.8" class="t">0</text><text x="879.39" y="1113.8" class="t"> </text><path d="M750 0H565V1102Q495 1043 385 983Q275 924 188 894V1061Q338 1129 452 1226Q565 1323 625 1409H750Z" transform="matrix(0.008789 0 0 -0.008789 879.39 1113.8)" class="g1"/><text x="914.79" y="1113.8" class="t">6</text><text x="944.79" y="1113.8" class="t">24</text><path d="M841 1119.1H974.7" stroke="#000" stroke-width="1.9"/><text x="902.5" y="1137.4" class="t" text-anchor="middle">+N (h)</text><text class="t" style="font-size:18.6px" transform="translate(997.8 1153.8) rotate(-90)">control</text></g>
<g><rect x="92" y="1245.5" width="15.3" height="141.3" fill="#137ab4" stroke="#141010" stroke-width="2"/><rect x="127.8" y="1227.8" width="14.9" height="159" fill="#137ab4" stroke="#141010" stroke-width="2"/><rect x="164.4" y="1245.5" width="15.5" height="141.3" fill="#137ab4" stroke="#141010" stroke-width="2"/><rect x="201.9" y="1248.4" width="15.1" height="138.4" fill="#137ab4" stroke="#141010" stroke-width="2"/><rect x="235.4" y="1192" width="14.9" height="194.8" fill="#34a33f" stroke="#141010" stroke-width="2"/><path d="M80.4 1178.5V1386.8L271.8 1386.8" fill="none" stroke="#000" stroke-width="2.2"/><text x="65.99" y="1394.5" class="t">0</text><path d="M80.4 1363.78H85.8" stroke="#000" stroke-width="2.2"/><text x="65.99" y="1370.68" class="t">2</text><path d="M80.4 1340.76H85.8" stroke="#000" stroke-width="2.2"/><text x="65.99" y="1347.66" class="t">4</text><path d="M80.4 1317.73H85.8" stroke="#000" stroke-width="2.2"/><text x="65.99" y="1324.63" class="t">6</text><path d="M80.4 1294.71H85.8" stroke="#000" stroke-width="2.2"/><text x="65.99" y="1301.61" class="t">8</text><path d="M80.4 1271.69H85.8" stroke="#000" stroke-width="2.2"/><text x="55.98" y="1278.59" class="t"> 0</text><path d="M750 0H565V1102Q495 1043 385 983Q275 924 188 894V1061Q338 1129 452 1226Q565 1323 625 1409H750Z" transform="matrix(0.008789 0 0 -0.008789 55.98 1278.59)" class="g1"/><path d="M80.4 1248.67H85.8" stroke="#000" stroke-width="2.2"/><text x="55.98" y="1255.57" class="t"> 2</text><path d="M750 0H565V1102Q495 1043 385 983Q275 924 188 894V1061Q338 1129 452 1226Q565 1323 625 1409H750Z" transform="matrix(0.008789 0 0 -0.008789 55.98 1255.57)" class="g1"/><path d="M80.4 1225.64H85.8" stroke="#000" stroke-width="2.2"/><text x="55.98" y="1232.54" class="t"> 4</text><path d="M750 0H565V1102Q495 1043 385 983Q275 924 188 894V1061Q338 1129 452 1226Q565 1323 625 1409H750Z" transform="matrix(0.008789 0 0 -0.008789 55.98 1232.54)" class="g1"/><path d="M80.4 1202.62H85.8" stroke="#000" stroke-width="2.2"/><text x="55.98" y="1209.52" class="t"> 6</text><path d="M750 0H565V1102Q495 1043 385 983Q275 924 188 894V1061Q338 1129 452 1226Q565 1323 625 1409H750Z" transform="matrix(0.008789 0 0 -0.008789 55.98 1209.52)" class="g1"/><path d="M80.4 1179.6H85.8" stroke="#000" stroke-width="2.2"/><text x="55.98" y="1185.5" class="t"> 8</text><path d="M750 0H565V1102Q495 1043 385 983Q275 924 188 894V1061Q338 1129 452 1226Q565 1323 625 1409H750Z" transform="matrix(0.008789 0 0 -0.008789 55.98 1185.5)" class="g1"/><text x="94.75" y="1184.5" class="ti" textLength="98.34" lengthAdjust="spacingAndGlyphs">tryptophan</text><text x="97.99" y="1407" class="t">0</text><text x="131.39" y="1407" class="t"> </text><path d="M750 0H565V1102Q495 1043 385 983Q275 924 188 894V1061Q338 1129 452 1226Q565 1323 625 1409H750Z" transform="matrix(0.008789 0 0 -0.008789 131.39 1407)" class="g1"/><text x="166.79" y="1407" class="t">6</text><text x="196.79" y="1407" class="t">24</text><path d="M93 1412.3H226.7" stroke="#000" stroke-width="1.9"/><text x="154.5" y="1430.6" class="t" text-anchor="middle">+N (h)</text><text class="t" style="font-size:18.6px" transform="translate(249.8 1447) rotate(-90)">control</text><text class="t" style="font-size:18.1px" text-anchor="middle" transform="translate(16.6 1283.1) rotate(-90)">amino acid (pmol/mg FW)</text></g>
<g><rect x="340.5" y="1269.2" width="15.1" height="117.6" fill="#137ab4" stroke="#141010" stroke-width="2"/><rect x="376.3" y="1196" width="15.5" height="190.8" fill="#137ab4" stroke="#141010" stroke-width="2"/><rect x="415" y="1380.2" width="15.2" height="6.6" fill="#137ab4" stroke="#141010" stroke-width="2"/><rect x="447.3" y="1381.1" width="15.7" height="5.7" fill="#137ab4" stroke="#141010" stroke-width="2"/><rect x="483.9" y="1380.2" width="15.5" height="6.6" fill="#34a33f" stroke="#141010" stroke-width="2"/><path d="M329.7 1178.5V1386.8L521 1386.8" fill="none" stroke="#000" stroke-width="2.2"/><text x="315.29" y="1394.5" class="t">0</text><path d="M329.7 1357.2H335.1" stroke="#000" stroke-width="2.2"/><text x="295.27" y="1364.1" class="t">200</text><path d="M329.7 1327.6H335.1" stroke="#000" stroke-width="2.2"/><text x="295.27" y="1334.5" class="t">400</text><path d="M329.7 1298H335.1" stroke="#000" stroke-width="2.2"/><text x="295.27" y="1304.9" class="t">600</text><path d="M329.7 1268.4H335.1" stroke="#000" stroke-width="2.2"/><text x="295.27" y="1275.3" class="t">800</text><path d="M329.7 1238.8H335.1" stroke="#000" stroke-width="2.2"/><text x="285.26" y="1245.7" class="t"> 000</text><path d="M750 0H565V1102Q495 1043 385 983Q275 924 188 894V1061Q338 1129 452 1226Q565 1323 625 1409H750Z" transform="matrix(0.008789 0 0 -0.008789 285.26 1245.7)" class="g1"/><path d="M329.7 1209.2H335.1" stroke="#000" stroke-width="2.2"/><text x="285.26" y="1216.1" class="t"> 200</text><path d="M750 0H565V1102Q495 1043 385 983Q275 924 188 894V1061Q338 1129 452 1226Q565 1323 625 1409H750Z" transform="matrix(0.008789 0 0 -0.008789 285.26 1216.1)" class="g1"/><path d="M329.7 1179.6H335.1" stroke="#000" stroke-width="2.2"/><text x="285.26" y="1185.5" class="t"> 400</text><path d="M750 0H565V1102Q495 1043 385 983Q275 924 188 894V1061Q338 1129 452 1226Q565 1323 625 1409H750Z" transform="matrix(0.008789 0 0 -0.008789 285.26 1185.5)" class="g1"/><text x="341.95" y="1184.5" class="ti" textLength="73.12" lengthAdjust="spacingAndGlyphs">tyrosine</text><text x="347.29" y="1407" class="t">0</text><text x="380.69" y="1407" class="t"> </text><path d="M750 0H565V1102Q495 1043 385 983Q275 924 188 894V1061Q338 1129 452 1226Q565 1323 625 1409H750Z" transform="matrix(0.008789 0 0 -0.008789 380.69 1407)" class="g1"/><text x="416.09" y="1407" class="t">6</text><text x="446.09" y="1407" class="t">24</text><path d="M342.3 1412.3H476" stroke="#000" stroke-width="1.9"/><text x="403.8" y="1430.6" class="t" text-anchor="middle">+N (h)</text><text class="t" style="font-size:18.6px" transform="translate(499.1 1447) rotate(-90)">control</text></g>
<g><rect x="596.8" y="1324.6" width="15.3" height="62.2" fill="#137ab4" stroke="#141010" stroke-width="2"/><rect x="633" y="1310.7" width="15.2" height="76.1" fill="#137ab4" stroke="#141010" stroke-width="2"/><rect x="668.6" y="1193.2" width="15.1" height="193.6" fill="#137ab4" stroke="#141010" stroke-width="2"/><rect x="704.4" y="1260.2" width="15.3" height="126.6" fill="#137ab4" stroke="#141010" stroke-width="2"/><rect x="740.6" y="1247.5" width="15.2" height="139.3" fill="#34a33f" stroke="#141010" stroke-width="2"/><path d="M579.1 1178.5V1386.8L771.4 1386.8" fill="none" stroke="#000" stroke-width="2.2"/><text x="564.69" y="1394.5" class="t">0</text><path d="M579.1 1345.36H584.5" stroke="#000" stroke-width="2.2"/><text x="554.68" y="1352.26" class="t">20</text><path d="M579.1 1303.92H584.5" stroke="#000" stroke-width="2.2"/><text x="554.68" y="1310.82" class="t">40</text><path d="M579.1 1262.48H584.5" stroke="#000" stroke-width="2.2"/><text x="554.68" y="1269.38" class="t">60</text><path d="M579.1 1221.04H584.5" stroke="#000" stroke-width="2.2"/><text x="554.68" y="1227.94" class="t">80</text><path d="M579.1 1179.6H584.5" stroke="#000" stroke-width="2.2"/><text x="544.67" y="1185.5" class="t"> 00</text><path d="M750 0H565V1102Q495 1043 385 983Q275 924 188 894V1061Q338 1129 452 1226Q565 1323 625 1409H750Z" transform="matrix(0.008789 0 0 -0.008789 544.67 1185.5)" class="g1"/><text x="592.65" y="1184.5" class="ti" textLength="54.27" lengthAdjust="spacingAndGlyphs">valine</text><text x="596.69" y="1407" class="t">0</text><text x="630.09" y="1407" class="t"> </text><path d="M750 0H565V1102Q495 1043 385 983Q275 924 188 894V1061Q338 1129 452 1226Q565 1323 625 1409H750Z" transform="matrix(0.008789 0 0 -0.008789 630.09 1407)" class="g1"/><text x="665.49" y="1407" class="t">6</text><text x="695.49" y="1407" class="t">24</text><path d="M591.7 1412.3H725.4" stroke="#000" stroke-width="1.9"/><text x="653.2" y="1430.6" class="t" text-anchor="middle">+N (h)</text><text class="t" style="font-size:18.6px" transform="translate(748.5 1447) rotate(-90)">control</text></g>
</svg>
</body></html>
